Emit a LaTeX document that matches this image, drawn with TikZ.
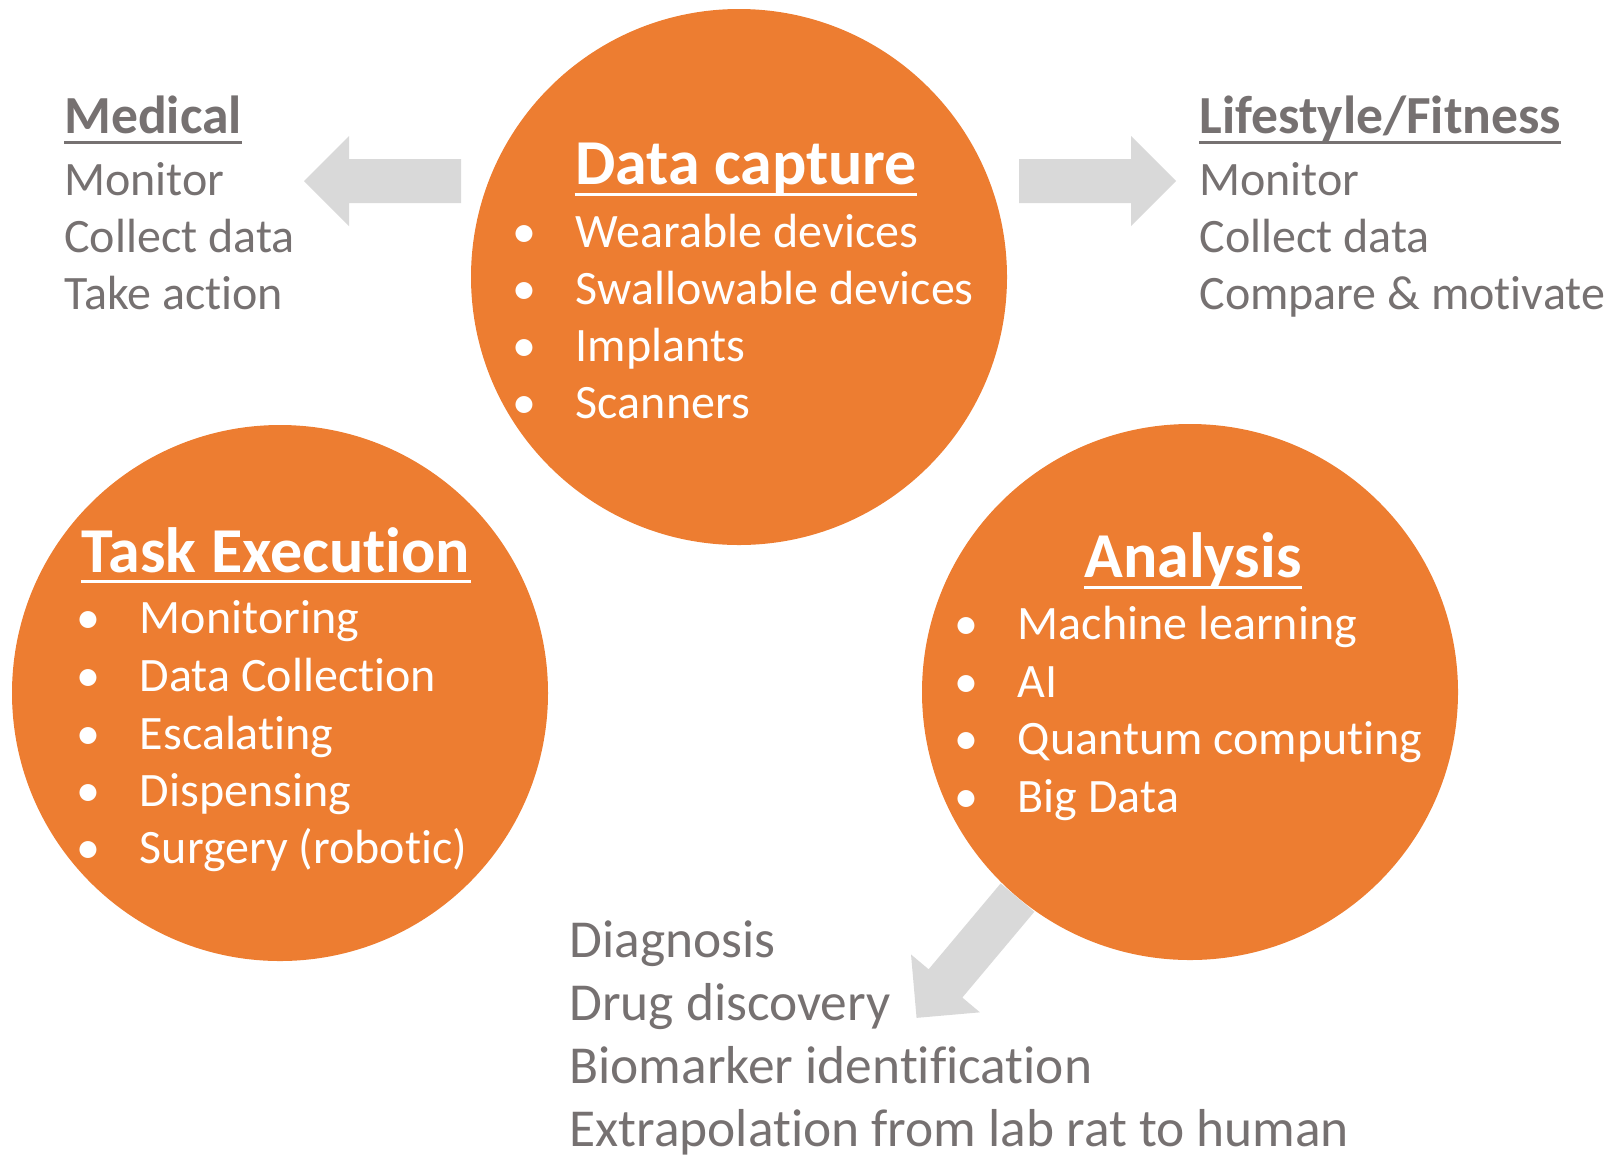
\documentclass[tikz,border=0pt]{standalone}
\usepackage{fontspec}
\setmainfont{Carlito}[Ligatures=NoCommon]
\usetikzlibrary{calc}
\definecolor{bubbleorange}{HTML}{ED7D31}
\definecolor{notegray}{HTML}{767171}
\definecolor{arrowgray}{HTML}{D9D9D9}
\def\blockarrow[#1](#2)(#3){\fill[#1, shift={(#2)}, rotate=#3] (0, 22) -- (112, 22) -- (112, 45) -- (157, 0) -- (112, -45) -- (112, -22) -- (0, -22) -- cycle;}
\newcommand{\bul}{\makebox[0pt][c]{\textbullet}\hspace{25.75pt}}

\begin{document}
\begin{tikzpicture}[x=0.5pt, y=-0.5pt,
		bubble/.style={circle, fill=bubbleorange, minimum size=268pt, inner sep=0pt},
		title/.style={font=\fontsize{32}{38}\selectfont\bfseries, text=white, inner sep=0pt, anchor=base},
		point/.style={font=\fontsize{24}{28}\selectfont, text=white, inner sep=0pt, anchor=base west},
		sidehead/.style={font=\fontsize{26.8}{32}\selectfont\bfseries, text=notegray, inner sep=0pt, anchor=base west},
		sidetext/.style={font=\fontsize{24}{28}\selectfont, text=notegray, inner sep=0pt, anchor=base west},
		outcome/.style={font=\fontsize{26.7}{32}\selectfont, text=notegray, inner sep=0pt, anchor=base west},
		titleline/.style={white, line width=1.5pt},
		sideline/.style={notegray, line width=1.5pt}]
		%%%%% START %%%%%
		\useasboundingbox (0, 0) rectangle (1616, 1158);
		
		\node[bubble] (capture) at (739, 277) {};
		\node[bubble] (task) at (280, 693) {};
		\node[bubble] (analysis) at (1190, 692) {};
		
		\blockarrow[arrowgray](461, 181)(180)
		\blockarrow[arrowgray](1019, 181)(0)
		\blockarrow[arrowgray](analysis.230)(230)
		
		% data capture
		\node[title] (capturetitle) at (746, 184) {Data capture};
		\draw[titleline] ([yshift=-5pt]capturetitle.base west) -- ([yshift=-5pt]capturetitle.base east);
		\node[point] (capture1) at (524, 247) {\bul Wearable devices};
		\node[point] (capture2) at (524, 304) {\bul Swallowable devices};
		\node[point] (capture3) at (524, 361) {\bul Implants};
		\node[point] (capture4) at (524, 418) {\bul Scanners};
		
		% task execution
		\node[title] (tasktitle) at (276, 572) {Task Execution};
		\draw[titleline] ([yshift=-4.5pt]tasktitle.base west) -- ([yshift=-4.5pt]tasktitle.base east);
		\node[point] (task1) at (88, 633) {\bul Monitoring};
		\node[point] (task2) at (88, 691) {\bul Data Collection};
		\node[point] (task3) at (88, 749) {\bul Escalating};
		\node[point] (task4) at (88, 806) {\bul Dispensing};
		\node[point] (task5) at (88, 863) {\bul Surgery (robotic)};
		
		% analysis
		\node[title] (analysistitle) at (1193, 577) {Analysis};
		\draw[titleline] ([yshift=-5pt]analysistitle.base west) -- ([yshift=-5pt]analysistitle.base east);
		\node[point] (analysis1) at (966, 639) {\bul Machine learning};
		\node[point] (analysis2) at (966, 697) {\bul AI};
		\node[point] (analysis3) at (966, 754) {\bul Quantum computing};
		\node[point] (analysis4) at (966, 812) {\bul Big Data};
		
		% medical
		\node[sidehead] (medical) at (64, 133) {Medical};
		\draw[sideline] ([yshift=-4.5pt]medical.base west) -- ([yshift=-4.5pt]medical.base east);
		\node[sidetext] (medical1) at (64, 195) {Monitor};
		\node[sidetext] (medical2) at (64, 252) {Collect data};
		\node[sidetext] (medical3) at (64, 309) {Take action};
		
		% lifestyle
		\node[sidehead] (lifestyle) at (1199, 133) {Lifestyle/Fitness};
		\draw[sideline] ([yshift=-4.5pt]lifestyle.base west) -- ([yshift=-4.5pt]lifestyle.base east);
		\node[sidetext] (lifestyle1) at (1199, 195) {Monitor};
		\node[sidetext] (lifestyle2) at (1199, 252) {Collect data};
		\node[sidetext] (lifestyle3) at (1199, 309) {Compare \& motivate};
		
		% outcomes
		\node[outcome] (outcome1) at (569, 957) {Diagnosis};
		\node[outcome] (outcome2) at (569, 1020) {Drug discovery};
		\node[outcome] (outcome3) at (569, 1083) {Biomarker identification};
		\node[outcome] (outcome4) at (569, 1146) {Extrapolation from lab rat to human};
		%%%%% END %%%%%
\end{tikzpicture}
\end{document}
